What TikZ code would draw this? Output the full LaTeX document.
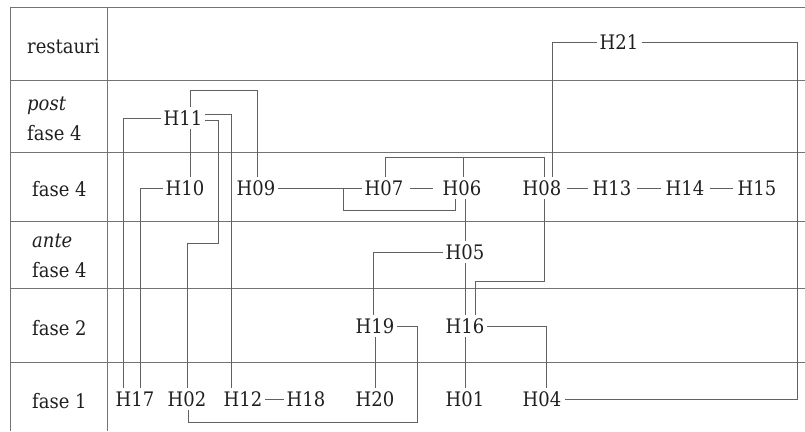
\documentclass[tikz,border=0pt]{standalone}
\usepackage{fontspec}
\setmainfont{DejaVu Serif Condensed}
\usetikzlibrary{calc}
\begin{document}
\begin{tikzpicture}[x=1pt,y=-1pt,
  grid/.style={draw=black!55,line width=0.9pt},
  link/.style={draw=black!62,line width=0.9pt},
  hn/.style={inner sep=3pt,font=\fontsize{20}{24}\selectfont,text=black!88},
  lab/.style={anchor=base west,inner sep=0pt,font=\fontsize{20}{24}\selectfont,text=black!88}]
\useasboundingbox (0,0) rectangle (805,431);
% table
\foreach \yy in {7,80,152,221,288,362} \draw[grid] (10,\yy) -- (805,\yy);
\draw[grid] (10,7) -- (10,431);
\draw[grid] (107,7) -- (107,431);
% row labels
\node[lab] (r1) at (27,53) {restauri};
\node[lab] (r2a) at (27,110) {\itshape post};
\node[lab] (r2b) at (27,140) {fase 4};
\node[lab] (r3) at (32,196) {fase 4};
\node[lab] (r4a) at (32,247) {\itshape ante};
\node[lab] (r4b) at (32,277) {fase 4};
\node[lab] (r5) at (32,335) {fase 2};
\node[lab] (r6) at (32,408) {fase 1};
% nodes
\node[hn] (H21) at (619,42) {H21};
\node[hn] (H11) at (183,118) {H11};
\node[hn] (H10) at (185,188) {H10};
\node[hn] (H09) at (256,188) {H09};
\node[hn] (H07) at (384,188) {H07};
\node[hn] (H06) at (462,188) {H06};
\node[hn] (H08) at (542,188) {H08};
\node[hn] (H13) at (612,188) {H13};
\node[hn] (H14) at (685,188) {H14};
\node[hn] (H15) at (757,188) {H15};
\node[hn] (H05) at (465,252) {H05};
\node[hn] (H19) at (375,326) {H19};
\node[hn] (H16) at (465,326) {H16};
\node[hn] (H17) at (135,399) {H17};
\node[hn] (H02) at (187,399) {H02};
\node[hn] (H12) at (243,399) {H12};
\node[hn] (H18) at (306,399) {H18};
\node[hn] (H20) at (375,399) {H20};
\node[hn] (H01) at (465,399) {H01};
\node[hn] (H04) at (542,399) {H04};
\coordinate (j1) at (343,188);
\coordinate (j2) at (463,157);
% connectors
\draw[link] (H11.west) -| ([xshift=-12pt]H17.north);
\draw[link] (H10.west) -| ([xshift=5pt]H17.north);
\draw[link] (H11.south -| 190,0) -- (H10.north -| 190,0);
\draw[link] (H11.north -| 190,0) -- (190,90) -- (257,90) -- (H09.north -| 257,0);
\draw[link] (H11.east |- 0,114) -- (231,114) -- (H12.north -| 231,0);
\draw[link] (H11.east |- 0,120) -- (218,120) -- (218,243) -- (187,243) -- (H02.north);
\draw[link] (H09.east) -- (H07.west);
\draw[link] (j1) -- (343,210) -- (455,210) -- (H06.south -| 455,0);
\draw[link,shorten <=4pt,shorten >=7pt] (H07.east) -- (H06.west);
\draw[link] (H07.north -| 385,0) -- (385,157) -- (544,157) -- (H08.north -| 544,0);
\draw[link] (j2) -- (H06.north -| 463,0);
\draw[link] (H21.west) -- (552,42) -- (H08.north -| 552,0);
\draw[link] (H21.east) -- (797,42) -- (797,399) -- (H04.east);
\draw[link] (H08.south -| 544,0) -- (544,281) -- (475,281) -- (H16.north -| 475,0);
\draw[link] (H06.south -| 465,0) -- (H05.north);
\draw[link] (H05.south) -- (H16.north);
\draw[link] (H16.south) -- (H01.north);
\draw[link] (H05.west) -| ([xshift=-2pt]H19.north);
\draw[link] (H19.south) -- (H20.north);
\draw[link] (H19.east) -- (417,326) -- (417,422) -- (188,422) -- (H02.south -| 188,0);
\draw[link] (H12.east) -- (H18.west);
\draw[link] (H16.east) -| ([xshift=4pt]H04.north);
\draw[link,shorten <=2pt,shorten >=2pt] (H08.east) -- (H13.west);
\draw[link,shorten <=2pt,shorten >=2pt] (H13.east) -- (H14.west);
\draw[link,shorten <=2pt,shorten >=2pt] (H14.east) -- (H15.west);
\end{tikzpicture}
\end{document}
